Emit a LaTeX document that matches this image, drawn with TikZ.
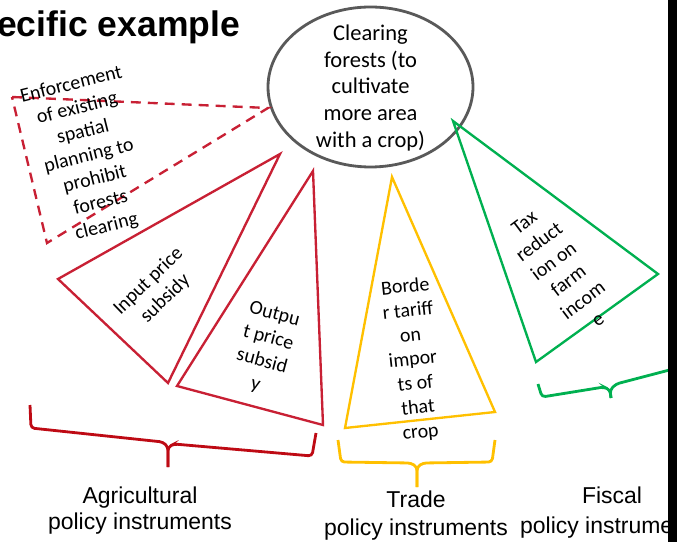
\documentclass[tikz,border=0pt]{standalone}
\usepackage{fontspec}
\setmainfont{Carlito}
\newfontfamily\arialfont{Liberation Sans}
\usepackage{tikz}
\usetikzlibrary{arrows}

\definecolor{agred}{RGB}{200,32,52}
\definecolor{bracered}{RGB}{190,10,20}
\definecolor{tradeyellow}{RGB}{255,192,0}
\definecolor{fiscalgreen}{RGB}{0,176,80}
\definecolor{ellgray}{RGB}{89,89,89}

\begin{document}
\begin{tikzpicture}[x=0.03cm,y=-0.03cm]
\tikzstyle{every node}+=[inner sep=0pt]
\tikzstyle{tri}=[line width=2pt, line join=miter]
\tikzstyle{brace}=[line width=2.4pt, rounded corners=3pt]
\tikzstyle{tritext}=[align=center, font=\fontsize{17}{20.8}\selectfont]
\tikzstyle{grouplabel}=[align=center, font=\arialfont\fontsize{19.6}{23}\selectfont]
\useasboundingbox (0,0) rectangle (677,542);
\clip (0,0) rectangle (677,542);
%title, cut at the left edge
\node[anchor=base west, font=\arialfont\bfseries\fontsize{30.3}{36}\selectfont] (title) at (-3,37) {ecific example};
%the target
\draw [ellgray, line width=2.4pt] (370.5,87) ellipse [x radius=102.5, y radius=80];
\node[align=center, font=\fontsize{19.2}{23}\selectfont] (clearing) at (370.5,88) {Clearing\\forests (to\\cultivate\\more area\\with a crop)};
%agricultural instruments
\draw [agred, tri, dash pattern=on 8.5pt off 6pt] (12,97) -- (268,108) -- (47,243) -- cycle;
\node[tritext, rotate=14] (enforce) at (89,156) {Enforcement\\of existing\\spatial\\planning to\\prohibit\\forests\\clearing};
\draw [agred, tri] (280,154) -- (58,279) -- (168,383) -- cycle;
\node[tritext, rotate=44] (inputsub) at (157,290) {Input price\\subsidy};
\draw [agred, tri] (313,171) -- (177,386) -- (323,425) -- cycle;
\node[tritext, rotate=-15] (outputsub) at (265,350) {Outpu\\t price\\subsid\\y};
%trade instrument
\draw [tradeyellow, tri] (392,177) -- (345,428) -- (495,412) -- cycle;
\node[tritext, rotate=6] (tariff) at (413,360) {Borde\\r tariff\\on\\impor\\ts of\\that\\crop};
%fiscal instrument
\draw [fiscalgreen, tri] (453,121) -- (658,274) -- (536,362) -- cycle;
\node[tritext, rotate=37] (taxred) at (561,271) {Tax\\reduct\\ion on\\farm\\incom\\e};
%braces, drawn as two halves meeting at the tip
\draw [bracered, brace] (30,405) -- (31,428) -- (163,442) -- (168,447) -- (168,467);
\draw [bracered, brace] (316,433) -- (312,456) -- (174,444) -- (168,447) -- (168,467);
\draw [tradeyellow, brace] (338,440) -- (341,462) -- (411,463) -- (417,467) -- (417,487);
\draw [tradeyellow, brace] (495,440) -- (492,462) -- (423,463) -- (417,467) -- (417,487);
\draw [fiscalgreen, brace] (538,384) -- (542,397) -- (604,387) -- (610,390) -- (611,398);
\draw [fiscalgreen, brace] (700,362) -- (616,384) -- (610,390) -- (611,398);
%group labels
\node[grouplabel, font=\arialfont\fontsize{19.6}{22.2}\selectfont] (agrilab) at (140,511) {Agricultural\\policy instruments};
\node[grouplabel, font=\arialfont\fontsize{19.6}{23.9}\selectfont] (tradelab) at (416,516) {Trade\\policy instruments};
\node[grouplabel, font=\arialfont\fontsize{19.6}{25.6}\selectfont] (fiscallab) at (612,513) {Fiscal\\policy instruments};
%edge of the slide
\fill [black] (668,-5) rectangle (680,550);
\end{tikzpicture}
\end{document}
